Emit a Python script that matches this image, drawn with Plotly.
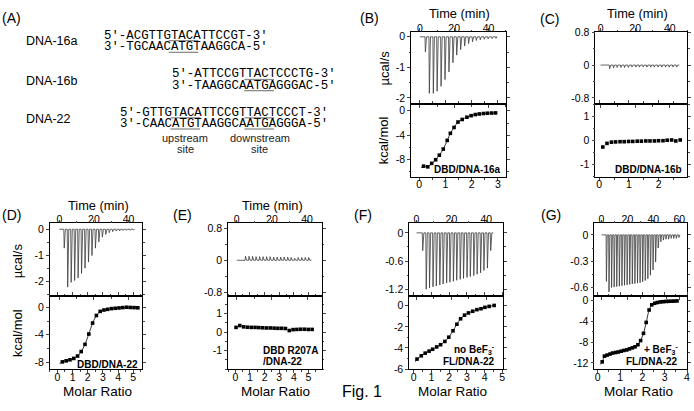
import plotly.graph_objects as go

W, H = 694, 411

# ---------------- data ----------------
# Panel B : DBD / DNA-16a
b_inj_time = [3.0, 5.3, 7.6, 9.8, 12.1, 14.4, 16.7, 19.0, 21.2, 23.5, 25.8, 28.1, 30.4, 32.6, 34.9, 37.2, 39.5, 41.8, 44.0]
b_inj_peak = [-0.5, -1.85, -1.85, -1.78, -1.62, -1.4, -1.15, -0.85, -0.6, -0.42, -0.3, -0.22, -0.16, -0.12, -0.1, -0.08, -0.07, -0.06, -0.05]
b_ratio = [0.17, 0.33, 0.48, 0.63, 0.77, 0.92, 1.07, 1.19, 1.33, 1.48, 1.64, 1.82, 1.98, 2.14, 2.29, 2.45, 2.6, 2.76, 2.91]
b_heat = [-9.05, -9.16, -8.6, -8.0, -7.26, -6.26, -4.84, -3.68, -2.73, -1.84, -1.42, -1.05, -0.8, -0.62, -0.52, -0.45, -0.4, -0.37, -0.35]
b_fit_x = [0.08] + b_ratio
b_fit_y = [-9.3] + b_heat

# Panel C : DBD / DNA-16b
c_inj_time = [5.0, 7.2, 9.3, 11.5, 13.6, 15.8, 17.9, 20.1, 22.2, 24.4, 26.5, 28.7, 30.8, 33.0, 35.1, 37.3, 39.4, 41.6, 43.7]
c_inj_peak = [-0.09, -0.07, -0.06, -0.06, -0.06, -0.06, -0.05, -0.05, -0.05, -0.05, -0.05, -0.05, -0.05, -0.05, -0.05, -0.05, -0.05, -0.05, -0.05]
c_ratio = [0.12, 0.26, 0.41, 0.55, 0.7, 0.84, 0.99, 1.13, 1.28, 1.42, 1.57, 1.71, 1.86, 2.0, 2.15, 2.29, 2.44, 2.58, 2.73]
c_heat = [-0.27, -0.12, -0.07, -0.06, -0.05, -0.05, -0.04, -0.04, -0.03, -0.03, -0.02, -0.02, -0.02, -0.01, -0.01, 0.01, 0.02, -0.02, 0.02]

# Panel D : DBD / DNA-22
d_inj_time = [2.6, 4.6, 6.6, 8.6, 10.6, 12.6, 14.6, 16.6, 18.6, 20.6, 22.6, 24.6, 26.6, 28.6, 30.6, 32.6, 34.6, 36.6, 38.6, 40.6, 42.6]
d_inj_peak = [-0.72, -2.2, -2.02, -1.95, -1.85, -1.68, -1.48, -1.25, -1.0, -0.72, -0.48, -0.3, -0.2, -0.13, -0.09, -0.07, -0.06, -0.05, -0.04, -0.04, -0.03]
d_ratio = [0.33, 0.58, 0.83, 1.08, 1.33, 1.57, 1.82, 2.07, 2.32, 2.57, 2.82, 3.07, 3.31, 3.56, 3.81, 4.06, 4.31, 4.56, 4.8, 5.05, 5.3]
d_heat = [-7.95, -7.8, -7.65, -7.45, -7.1, -6.45, -5.4, -3.9, -2.3, -1.2, -0.6, -0.4, -0.3, -0.2, -0.15, -0.1, -0.05, 0.0, -0.03, -0.05, -0.08]
d_fit_x = [0.15] + d_ratio
d_fit_y = [-8.2] + d_heat

# Panel E : DBD R207A / DNA-22
e_inj_time = [4.7, 6.7, 8.7, 10.7, 12.7, 14.7, 16.7, 18.7, 20.7, 22.7, 24.7, 26.7, 28.7, 30.7, 32.7, 34.7, 36.7, 38.7, 40.7]
e_inj_peak = [0.1, 0.1, 0.1, 0.09, 0.09, 0.09, 0.09, 0.09, 0.08, 0.08, 0.08, 0.08, 0.08, 0.07, 0.05, 0.07, 0.07, 0.07, 0.07]
e_ratio = [0.05, 0.31, 0.57, 0.83, 1.09, 1.35, 1.61, 1.87, 2.13, 2.39, 2.65, 2.91, 3.17, 3.43, 3.69, 3.95, 4.21, 4.47, 4.73, 4.99, 5.25]
e_heat = [0.25, 0.35, 0.28, 0.26, 0.25, 0.25, 0.24, 0.23, 0.22, 0.22, 0.21, 0.2, 0.2, 0.19, 0.08, 0.13, 0.14, 0.15, 0.15, 0.14, 0.14]

# Panel F : FL / DNA-22, no BeF3-
f_inj_time = [3.3, 5.3, 7.2, 9.2, 11.1, 13.1, 15.0, 17.0, 18.9, 20.9, 22.8, 24.8, 26.7, 28.7, 30.6, 32.6, 34.5, 36.5, 38.4, 40.4, 42.3]
f_inj_peak = [-0.38, -1.2, -1.17, -1.15, -1.13, -1.11, -1.09, -1.07, -1.05, -1.03, -1.01, -0.99, -0.97, -0.95, -0.93, -0.91, -0.88, -0.85, -0.8, -0.75, -0.38]
f_ratio = [0.19, 0.43, 0.65, 0.87, 1.07, 1.3, 1.52, 1.76, 1.98, 2.22, 2.44, 2.65, 2.87, 3.09, 3.33, 3.57, 3.8, 4.02, 4.26, 4.54]
f_heat = [-5.05, -4.74, -4.49, -4.3, -4.12, -3.9, -3.69, -3.38, -2.98, -2.37, -1.75, -1.23, -0.89, -0.68, -0.52, -0.37, -0.28, -0.15, -0.06, 0.03]
f_fit_x = [0.1] + f_ratio
f_fit_y = [-5.3] + f_heat

# Panel G : FL / DNA-22, + BeF3-
g_inj_time = [3.5, 5.5, 7.5, 9.5, 11.5, 13.5, 15.5, 17.5, 19.5, 21.5, 23.5, 25.5, 27.5, 29.5, 31.5, 33.5, 35.5, 37.5, 39.5, 41.5, 43.5, 45.5, 47.5, 49.5, 51.5, 53.5, 55.5, 57.5, 59.5]
g_inj_peak = [-0.53, -0.65, -0.6, -0.595, -0.59, -0.585, -0.58, -0.575, -0.57, -0.565, -0.56, -0.555, -0.55, -0.545, -0.535, -0.52, -0.5, -0.46, -0.4, -0.31, -0.15, -0.08, -0.06, -0.05, -0.05, -0.04, -0.04, -0.04, -0.03]
g_ratio = [0.2, 0.3, 0.42, 0.55, 0.67, 0.8, 0.92, 1.05, 1.17, 1.3, 1.42, 1.55, 1.67, 1.8, 1.92, 2.05, 2.17, 2.3, 2.42, 2.55, 2.67, 2.8, 2.92, 3.05, 3.17, 3.3, 3.42, 3.55]
g_heat = [-11.8, -10.7, -10.5, -10.3, -10.1, -10.0, -9.9, -9.75, -9.6, -9.5, -9.3, -9.1, -8.9, -8.5, -7.7, -6.3, -4.2, -1.8, -0.8, -0.5, -0.35, -0.25, -0.2, -0.15, -0.12, -0.1, -0.08, -0.05]
g_fit_x = [0.12] + g_ratio
g_fit_y = [-12.3] + g_heat

# tick values
time_ticks = [0, 20, 40]
g_time_ticks = [0, 20, 40, 60]
b_dp_ticks = [0, -1, -2]
c_dp_ticks = [0.8, 0, -0.8]
f_dp_ticks = [0, -0.6, -1.2]
g_dp_ticks = [0, -0.3, -0.6]
b_h_ticks = [0, -4, -8]
c_h_ticks = [1, 0, -1]
f_h_ticks = [0, -2, -4, -6]
g_h_ticks = [0, -4, -8, -12]
b_r_ticks = [0, 1, 2, 3]
d_r_ticks = [0, 1, 2, 3, 4, 5]
g_r_ticks = [0, 1, 2, 3, 4]

# sequences (panel A) and the underlined binding sites (start index, length)
seq_16a_top = "5′-ACGTTGTACATTCCGT-3′"
seq_16a_bot = "3′-TGCAACATGTAAGGCA-5′"
seq_16b_top = "5′-ATTCCGTTACTCCCTG-3′"
seq_16b_bot = "3′-TAAGGCAATGAGGGAC-5′"
seq_22_top = "5′-GTTGTACATTCCGTTACTCCCT-3′"
seq_22_bot = "3′-CAACATGTAAGGCAATGAGGGA-5′"
site_16a = [(9, 4)]
site_16b = [(10, 4)]
site_22 = [(7, 4), (17, 4)]

# ---------------- figure ----------------
SANS = "Liberation Sans, Arial, sans-serif"
MONO = "Liberation Mono, Courier New, monospace"
SEQ_SIZE = 12.4
CHAR_W = SEQ_SIZE * 0.6


def fmt(v):
    return f"{v:g}"


def thermo(times, peaks, t_end):
    xs, ys = [0.0], [0.0]
    for t, p in zip(times, peaks):
        xs += [t, t + 0.25, t + 0.9]
        ys += [0.0, p, 0.0]
    xs.append(t_end)
    ys.append(0.0)
    return xs, ys


fig = go.Figure()
layout = dict(width=W, height=H, margin=dict(l=0, r=0, t=0, b=0),
              paper_bgcolor="white", plot_bgcolor="rgba(0,0,0,0)",
              showlegend=False,
              font=dict(family=SANS, size=10.5, color="black"))

counter = [0]


def axis(xdom_px, ydom_px, xr, yr, xt, yt, xminor, yminor, xside):
    counter[0] += 1
    n = counter[0]
    sfx = "" if n == 1 else str(n)
    common = dict(showline=True, linecolor="black", linewidth=0.8, mirror="ticks",
                  ticks="outside", ticklen=3, tickwidth=0.8, showgrid=False,
                  zeroline=False, tickfont=dict(size=10.5, family=SANS),
                  fixedrange=True)
    layout["xaxis" + sfx] = dict(common, domain=[xdom_px[0] / W, xdom_px[1] / W],
                                 range=xr, anchor="y" + sfx, side=xside,
                                 tickmode="array", tickvals=xt,
                                 ticktext=[fmt(v) for v in xt],
                                 ticklabelstandoff=(-8 if xside == "top" else -5),
                                 minor=dict(dtick=xminor, tick0=0, ticks="outside",
                                            ticklen=1.8, tickwidth=0.6))
    layout["yaxis" + sfx] = dict(common, domain=[1 - ydom_px[1] / H, 1 - ydom_px[0] / H],
                                 range=yr, anchor="x" + sfx,
                                 tickmode="array", tickvals=yt,
                                 ticktext=[fmt(v) for v in yt],
                                 minor=dict(dtick=yminor, tick0=0, ticks="outside",
                                            ticklen=1.8, tickwidth=0.6))
    return "x" + sfx, "y" + sfx


def add_thermo(xa, ya, times, peaks, t_end):
    xs, ys = thermo(times, peaks, t_end)
    fig.add_trace(go.Scatter(x=xs, y=ys, mode="lines", xaxis=xa, yaxis=ya,
                             line=dict(color="#3c3c3c", width=0.8), hoverinfo="skip"))


def add_heat(xa, ya, rx, hy, fx=None, fy=None):
    if fx is not None:
        fig.add_trace(go.Scatter(x=fx, y=fy, mode="lines", xaxis=xa, yaxis=ya,
                                 line=dict(color="black", width=0.8, shape="spline",
                                           smoothing=0.6), hoverinfo="skip"))
    fig.add_trace(go.Scatter(x=rx, y=hy, mode="markers", xaxis=xa, yaxis=ya,
                             marker=dict(symbol="square", size=3.6, color="black"),
                             cliponaxis=False))


# panel geometry: (left, right, top, divider, bottom) in px
geo = {
    "B": (413, 508, 27, 101, 176),
    "C": (598, 690, 27, 101, 176),
    "D": (50, 143, 224, 299, 374),
    "E": (229, 323, 224, 299, 374),
    "F": (411, 505, 224, 299, 374),
    "G": (597, 690, 224, 299, 374),
}

# B
L, R, T, M, B_ = geo["B"]
xa, ya = axis((L, R), (T, M), [-5, 50], [-2.2, 0.15], time_ticks, b_dp_ticks, 10, 0.5, "top")
add_thermo(xa, ya, b_inj_time, b_inj_peak, 44.5)
xa, ya = axis((L, R), (M, B_), [-0.3, 3.3], [-10.8, 1.1], b_r_ticks, b_h_ticks, 0.5, 2, "bottom")
add_heat(xa, ya, b_ratio, b_heat, b_fit_x, b_fit_y)

# C
L, R, T, M, B_ = geo["C"]
xa, ya = axis((L, R), (T, M), [-3, 50], [-0.95, 0.8], time_ticks, c_dp_ticks, 10, 0.4, "top")
add_thermo(xa, ya, c_inj_time, c_inj_peak, 45.5)
xa, ya = axis((L, R), (M, B_), [-0.13, 2.96], [-1.5, 1.5], b_r_ticks, c_h_ticks, 0.5, 0.5, "bottom")
add_heat(xa, ya, c_ratio, c_heat)

# D
L, R, T, M, B_ = geo["D"]
xa, ya = axis((L, R), (T, M), [-5.5, 48], [-2.55, 0.22], time_ticks, b_dp_ticks, 10, 0.5, "top")
add_thermo(xa, ya, d_inj_time, d_inj_peak, 43.5)
xa, ya = axis((L, R), (M, B_), [-0.5, 5.6], [-9, 1.6], d_r_ticks, b_h_ticks, 0.5, 2, "bottom")
add_heat(xa, ya, d_ratio, d_heat, d_fit_x, d_fit_y)

# E
L, R, T, M, B_ = geo["E"]
xa, ya = axis((L, R), (T, M), [-5, 48.3], [-0.9, 0.92], time_ticks, c_dp_ticks, 10, 0.4, "top")
add_thermo(xa, ya, e_inj_time, e_inj_peak, 42.5)
xa, ya = axis((L, R), (M, B_), [-0.5, 5.9], [-2, 1.93], d_r_ticks, c_h_ticks, 0.5, 0.5, "bottom")
add_heat(xa, ya, e_ratio, e_heat)

# F
L, R, T, M, B_ = geo["F"]
xa, ya = axis((L, R), (T, M), [-4.2, 49.5], [-1.35, 0.2], time_ticks, f_dp_ticks, 10, 0.3, "top")
add_thermo(xa, ya, f_inj_time, f_inj_peak, 44.0)
xa, ya = axis((L, R), (M, B_), [-0.25, 5.03], [-6, 0.9], d_r_ticks, f_h_ticks, 0.5, 1, "bottom")
add_heat(xa, ya, f_ratio, f_heat, f_fit_x, f_fit_y)

# G
L, R, T, M, B_ = geo["G"]
xa, ya = axis((L, R), (T, M), [-5.5, 66], [-0.7, 0.13], g_time_ticks, g_dp_ticks, 10, 0.15, "top")
add_thermo(xa, ya, g_inj_time, g_inj_peak, 60.5)
xa, ya = axis((L, R), (M, B_), [-0.15, 4.0], [-13.2, 0.85], g_r_ticks, g_h_ticks, 0.5, 2, "bottom")
add_heat(xa, ya, g_ratio, g_heat, g_fit_x, g_fit_y)

# ---------------- annotations ----------------
anns = []
shapes = []


def ann(text, x, y, size=13, xanchor="center", family=SANS, angle=0, color="black"):
    anns.append(dict(text=text, x=x / W, y=1 - y / H, xref="paper", yref="paper",
                     xanchor=xanchor, yanchor="middle", showarrow=False,
                     textangle=angle, font=dict(size=size, family=family, color=color)))


def seq(text, x, y, sites):
    ann(text, x, y, SEQ_SIZE, "left", MONO)
    for start, length in sites:
        x0 = x + start * CHAR_W
        x1 = x0 + length * CHAR_W
        yy = 1 - (y + 5.2) / H
        shapes.append(dict(type="line", xref="paper", yref="paper",
                           x0=x0 / W, x1=x1 / W, y0=yy, y1=yy,
                           line=dict(color="#8c8c8c", width=1.3)))


# panel letters
ann("(A)", 0, 12, 14, "left")
ann("(B)", 360, 12, 14, "left")
ann("(C)", 540, 13, 14, "left")
ann("(D)", 0, 215, 14, "left")
ann("(E)", 172, 215, 14, "left")
ann("(F)", 354, 215, 14, "left")
ann("(G)", 541, 215, 14, "left")

# axis titles
for cx, cy in [(461, 8), (640, 8), (99, 205), (274, 205)]:
    ann("Time (min)", cx, cy, 12.8)
for cx, cy in [(98, 397), (277, 397), (454, 397), (641, 397)]:
    ann("Molar Ratio", cx, cy, 13.5)
ann("µcal/s", 386, 64, 13, angle=-90)
ann("kcal/mol", 386, 138, 13, angle=-90)
ann("µcal/s", 17, 262, 13, angle=-90)
ann("kcal/mol", 17, 337, 13, angle=-90)

# in-plot labels
ann("<b>DBD/DNA-16a</b>", 505, 168, 10, "right")
ann("<b>DBD/DNA-16b</b>", 687, 168, 10, "right")
ann("<b>DBD/DNA-22</b>", 141, 369, 10, "right")
ann("<b>DBD R207A</b>", 262, 355, 10, "left")
ann("<b>/DNA-22</b>", 262, 366, 10, "left")
ann("<b>no BeF<sub>3</sub><sup>-</sup></b>", 499, 354, 10, "right")
ann("<b>FL/DNA-22</b>", 499, 366, 10, "right")
ann("<b>+ BeF<sub>3</sub><sup>-</sup></b>", 683, 354, 10, "right")
ann("<b>FL/DNA-22</b>", 683, 366, 10, "right")

ann("Fig. 1", 341, 397, 16, "left")

# panel A
ann("DNA-16a", 24, 36, 12.5, "left")
ann("DNA-16b", 24, 77, 12.5, "left")
ann("DNA-22", 24, 116, 12.5, "left")
seq(seq_16a_top, 102.5, 30.5, site_16a)
seq(seq_16a_bot, 102.5, 42.5, site_16a)
seq(seq_16b_top, 171, 70.5, site_16b)
seq(seq_16b_bot, 171, 82, site_16b)
seq(seq_22_top, 119, 110, site_22)
seq(seq_22_bot, 119, 121.5, site_22)
ann("upstream", 186, 136, 11, color="#222")
ann("site", 186, 147, 11, color="#222")
ann("downstream", 261, 136, 11, color="#222")
ann("site", 261, 147, 11, color="#222")

layout["annotations"] = anns
layout["shapes"] = shapes
fig.update_layout(**layout)
fig.write_html("out.html", config={"displayModeBar": False},
               post_script="document.body.style.margin='0';document.body.style.overflow='hidden';")
